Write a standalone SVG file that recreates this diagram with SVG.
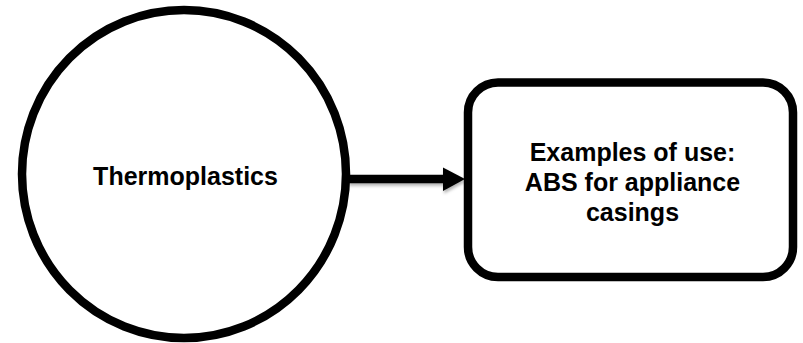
<svg xmlns="http://www.w3.org/2000/svg" width="803" height="343" viewBox="0 0 803 343">
  <style>
    .shape { fill: #ffffff; stroke: #000000; stroke-width: 8.5; }
    .label { font-family: "Liberation Sans", Arial, sans-serif; font-weight: bold; font-size: 25px; fill: #000000; text-anchor: middle; }
    .conn { stroke: #000000; stroke-width: 8.5; fill: none; }
  </style>
  <defs>
    <filter id="shadow" x="-10%" y="-50%" width="120%" height="200%">
      <feDropShadow dx="1" dy="2.5" stdDeviation="1.5" flood-color="#000000" flood-opacity="0.3"/>
    </filter>
  </defs>
  <rect width="803" height="343" fill="#ffffff"/>
  <g id="connectors" filter="url(#shadow)">
    <line class="conn" x1="348" y1="179" x2="445" y2="179"/>
    <polygon points="443,167.5 465,179 443,191" fill="#000000"/>
  </g>
  <g id="node-thermoplastics">
    <ellipse class="shape" cx="184" cy="174" rx="162" ry="164"/>
    <text class="label" x="185.5" y="185">Thermoplastics</text>
  </g>
  <g id="node-examples">
    <rect class="shape" x="468" y="82.5" width="325" height="194.5" rx="30" ry="30"/>
    <text class="label" x="632.5" y="160.5">Examples of use:</text>
    <text class="label" x="632.5" y="190.5">ABS for appliance</text>
    <text class="label" x="632.5" y="220.5">casings</text>
  </g>
</svg>
